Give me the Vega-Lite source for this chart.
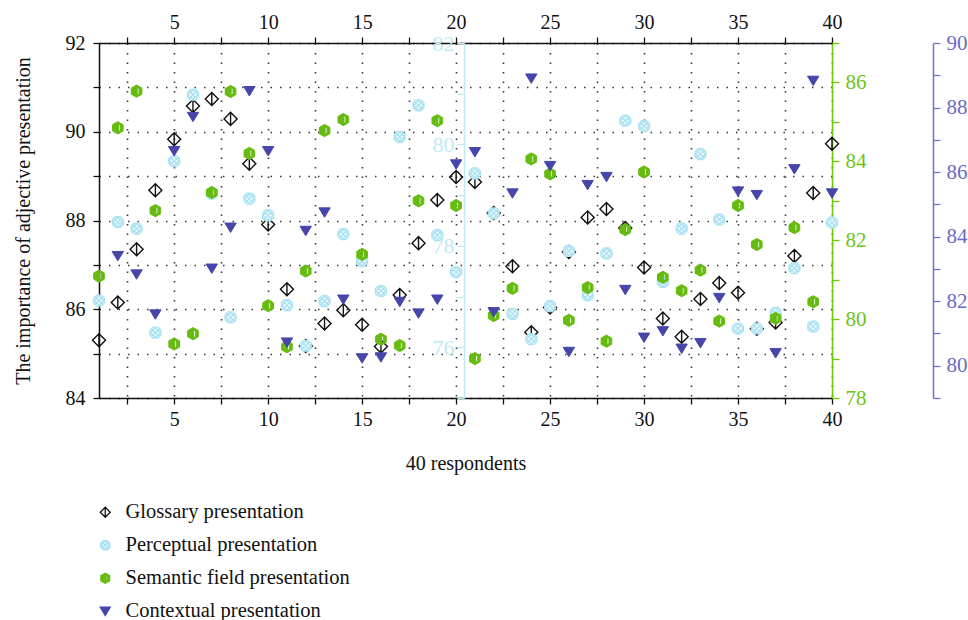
{
  "$schema": "https://vega.github.io/schema/vega-lite/v6.json",
  "width": 733,
  "height": 355,
  "autosize": {"type": "none"},
  "padding": {"left": 99, "top": 43, "right": 136, "bottom": 222},
  "background": "white",
  "config": {
    "font": "Liberation Serif",
    "view": {"stroke": null},
    "axis": {"labelFont": "Liberation Serif", "titleFont": "Liberation Serif", "labelFontSize": 20, "titleFontSize": 20, "titleFontWeight": "normal", "labelColor": "#111", "titleColor": "#111", "domainWidth": 1.5, "tickWidth": 1.3},
    "legend": {"orient": "none", "legendX": -4, "legendY": 459, "direction": "vertical", "labelFont": "Liberation Serif", "labelFontSize": 20.5, "labelColor": "#111", "labelLimit": 0, "symbolSize": 100, "labelOffset": 10, "rowPadding": 12, "padding": 0, "symbolStrokeWidth": 1.3}
  },
  "datasets": {
    "pts": [
      {"resp":1,"series":"Glossary presentation","value":85.30},{"resp":2,"series":"Glossary presentation","value":86.15},{"resp":3,"series":"Glossary presentation","value":87.35},{"resp":4,"series":"Glossary presentation","value":88.68},{"resp":5,"series":"Glossary presentation","value":89.83},{"resp":6,"series":"Glossary presentation","value":90.58},{"resp":7,"series":"Glossary presentation","value":90.74},{"resp":8,"series":"Glossary presentation","value":90.29},{"resp":9,"series":"Glossary presentation","value":89.28},{"resp":10,"series":"Glossary presentation","value":87.91},
      {"resp":11,"series":"Glossary presentation","value":86.45},{"resp":12,"series":"Glossary presentation","value":85.17},{"resp":13,"series":"Glossary presentation","value":85.68},{"resp":14,"series":"Glossary presentation","value":85.98},{"resp":15,"series":"Glossary presentation","value":85.65},{"resp":16,"series":"Glossary presentation","value":85.16},{"resp":17,"series":"Glossary presentation","value":86.32},{"resp":18,"series":"Glossary presentation","value":87.49},{"resp":19,"series":"Glossary presentation","value":88.46},{"resp":20,"series":"Glossary presentation","value":88.98},
      {"resp":21,"series":"Glossary presentation","value":88.87},{"resp":22,"series":"Glossary presentation","value":88.17},{"resp":23,"series":"Glossary presentation","value":86.97},{"resp":24,"series":"Glossary presentation","value":85.48},{"resp":25,"series":"Glossary presentation","value":86.04},{"resp":26,"series":"Glossary presentation","value":87.29},{"resp":27,"series":"Glossary presentation","value":88.07},{"resp":28,"series":"Glossary presentation","value":88.26},{"resp":29,"series":"Glossary presentation","value":87.83},{"resp":30,"series":"Glossary presentation","value":86.94},
      {"resp":31,"series":"Glossary presentation","value":85.79},{"resp":32,"series":"Glossary presentation","value":85.38},{"resp":33,"series":"Glossary presentation","value":86.23},{"resp":34,"series":"Glossary presentation","value":86.59},{"resp":35,"series":"Glossary presentation","value":86.37},{"resp":36,"series":"Glossary presentation","value":85.56},{"resp":37,"series":"Glossary presentation","value":85.70},{"resp":38,"series":"Glossary presentation","value":87.20},{"resp":39,"series":"Glossary presentation","value":88.62},{"resp":40,"series":"Glossary presentation","value":89.73},
      {"resp":1,"series":"Perceptual presentation","value":76.92},{"resp":2,"series":"Perceptual presentation","value":78.47},{"resp":3,"series":"Perceptual presentation","value":78.34},{"resp":4,"series":"Perceptual presentation","value":76.29},{"resp":5,"series":"Perceptual presentation","value":79.67},{"resp":6,"series":"Perceptual presentation","value":80.98},{"resp":7,"series":"Perceptual presentation","value":79.03},{"resp":8,"series":"Perceptual presentation","value":76.59},{"resp":9,"series":"Perceptual presentation","value":78.93},{"resp":10,"series":"Perceptual presentation","value":78.60},
      {"resp":11,"series":"Perceptual presentation","value":76.83},{"resp":12,"series":"Perceptual presentation","value":76.03},{"resp":13,"series":"Perceptual presentation","value":76.91},{"resp":14,"series":"Perceptual presentation","value":78.23},{"resp":15,"series":"Perceptual presentation","value":77.70},{"resp":16,"series":"Perceptual presentation","value":77.11},{"resp":17,"series":"Perceptual presentation","value":80.15},{"resp":18,"series":"Perceptual presentation","value":80.77},{"resp":19,"series":"Perceptual presentation","value":78.21},{"resp":20,"series":"Perceptual presentation","value":77.48},
      {"resp":21,"series":"Perceptual presentation","value":79.43},{"resp":22,"series":"Perceptual presentation","value":78.64},{"resp":23,"series":"Perceptual presentation","value":76.66},{"resp":24,"series":"Perceptual presentation","value":76.16},{"resp":25,"series":"Perceptual presentation","value":76.81},{"resp":26,"series":"Perceptual presentation","value":77.90},{"resp":27,"series":"Perceptual presentation","value":77.03},{"resp":28,"series":"Perceptual presentation","value":77.85},{"resp":29,"series":"Perceptual presentation","value":80.47},{"resp":30,"series":"Perceptual presentation","value":80.36},
      {"resp":31,"series":"Perceptual presentation","value":77.29},{"resp":32,"series":"Perceptual presentation","value":78.34},{"resp":33,"series":"Perceptual presentation","value":79.81},{"resp":34,"series":"Perceptual presentation","value":78.52},{"resp":35,"series":"Perceptual presentation","value":76.37},{"resp":36,"series":"Perceptual presentation","value":76.37},{"resp":37,"series":"Perceptual presentation","value":76.68},{"resp":38,"series":"Perceptual presentation","value":77.56},{"resp":39,"series":"Perceptual presentation","value":76.41},{"resp":40,"series":"Perceptual presentation","value":78.46},
      {"resp":1,"series":"Semantic field presentation","value":81.09},{"resp":2,"series":"Semantic field presentation","value":84.85},{"resp":3,"series":"Semantic field presentation","value":85.78},{"resp":4,"series":"Semantic field presentation","value":82.75},{"resp":5,"series":"Semantic field presentation","value":79.37},{"resp":6,"series":"Semantic field presentation","value":79.63},{"resp":7,"series":"Semantic field presentation","value":83.21},{"resp":8,"series":"Semantic field presentation","value":85.77},{"resp":9,"series":"Semantic field presentation","value":84.20},{"resp":10,"series":"Semantic field presentation","value":80.34},
      {"resp":11,"series":"Semantic field presentation","value":79.30},{"resp":12,"series":"Semantic field presentation","value":81.22},{"resp":13,"series":"Semantic field presentation","value":84.78},{"resp":14,"series":"Semantic field presentation","value":85.06},{"resp":15,"series":"Semantic field presentation","value":81.64},{"resp":16,"series":"Semantic field presentation","value":79.49},{"resp":17,"series":"Semantic field presentation","value":79.33},{"resp":18,"series":"Semantic field presentation","value":83.00},{"resp":19,"series":"Semantic field presentation","value":85.03},{"resp":20,"series":"Semantic field presentation","value":82.88},
      {"resp":21,"series":"Semantic field presentation","value":79.00},{"resp":22,"series":"Semantic field presentation","value":80.09},{"resp":23,"series":"Semantic field presentation","value":80.78},{"resp":24,"series":"Semantic field presentation","value":84.06},{"resp":25,"series":"Semantic field presentation","value":83.68},{"resp":26,"series":"Semantic field presentation","value":79.97},{"resp":27,"series":"Semantic field presentation","value":80.80},{"resp":28,"series":"Semantic field presentation","value":79.44},{"resp":29,"series":"Semantic field presentation","value":82.27},{"resp":30,"series":"Semantic field presentation","value":83.73},
      {"resp":31,"series":"Semantic field presentation","value":81.06},{"resp":32,"series":"Semantic field presentation","value":80.72},{"resp":33,"series":"Semantic field presentation","value":81.24},{"resp":34,"series":"Semantic field presentation","value":79.95},{"resp":35,"series":"Semantic field presentation","value":82.88},{"resp":36,"series":"Semantic field presentation","value":81.89},{"resp":37,"series":"Semantic field presentation","value":80.02},{"resp":38,"series":"Semantic field presentation","value":82.32},{"resp":39,"series":"Semantic field presentation","value":80.44},
      {"resp":2,"series":"Contextual presentation","value":83.40},{"resp":3,"series":"Contextual presentation","value":82.83},{"resp":4,"series":"Contextual presentation","value":81.59},{"resp":5,"series":"Contextual presentation","value":86.65},{"resp":6,"series":"Contextual presentation","value":87.71},{"resp":7,"series":"Contextual presentation","value":83.01},{"resp":8,"series":"Contextual presentation","value":84.28},{"resp":9,"series":"Contextual presentation","value":88.51},{"resp":10,"series":"Contextual presentation","value":86.65},
      {"resp":11,"series":"Contextual presentation","value":80.72},{"resp":12,"series":"Contextual presentation","value":84.18},{"resp":13,"series":"Contextual presentation","value":84.75},{"resp":14,"series":"Contextual presentation","value":82.05},{"resp":15,"series":"Contextual presentation","value":80.23},{"resp":16,"series":"Contextual presentation","value":80.26},{"resp":17,"series":"Contextual presentation","value":81.98},{"resp":18,"series":"Contextual presentation","value":81.62},{"resp":19,"series":"Contextual presentation","value":82.05},{"resp":20,"series":"Contextual presentation","value":86.24},
      {"resp":21,"series":"Contextual presentation","value":86.62},{"resp":22,"series":"Contextual presentation","value":81.66},{"resp":23,"series":"Contextual presentation","value":85.34},{"resp":24,"series":"Contextual presentation","value":88.90},{"resp":25,"series":"Contextual presentation","value":86.19},{"resp":26,"series":"Contextual presentation","value":80.43},{"resp":27,"series":"Contextual presentation","value":85.60},{"resp":28,"series":"Contextual presentation","value":85.85},{"resp":29,"series":"Contextual presentation","value":82.35},{"resp":30,"series":"Contextual presentation","value":80.87},
      {"resp":31,"series":"Contextual presentation","value":81.07},{"resp":32,"series":"Contextual presentation","value":80.53},{"resp":33,"series":"Contextual presentation","value":80.70},{"resp":34,"series":"Contextual presentation","value":82.10},{"resp":35,"series":"Contextual presentation","value":85.40},{"resp":36,"series":"Contextual presentation","value":85.29},{"resp":37,"series":"Contextual presentation","value":80.39},{"resp":38,"series":"Contextual presentation","value":86.09},{"resp":39,"series":"Contextual presentation","value":88.83},{"resp":40,"series":"Contextual presentation","value":85.34}
    ]
  },
  "data": {"name": "pts"},
  "layer": [
    {
      "transform": [{"filter": "datum.series === 'Glossary presentation'"}],
      "mark": {"type": "point", "size": 170, "strokeWidth": 1.4, "opacity": 1},
      "encoding": {
        "x": {"field": "resp", "type": "quantitative", "scale": {"domain": [1, 40], "nice": false, "zero": false},
          "axis": {"orient": "bottom", "values": [2.5,5,7.5,10,12.5,15,17.5,20,22.5,25,27.5,30,32.5,35,37.5,40], "labelExpr": "datum.value % 5 === 0 ? datum.label : ''", "labelFlush": false, "title": "40 respondents", "titlePadding": 24, "grid": true, "gridDash": [1.5, 8], "gridColor": "#222", "gridWidth": 1.6, "gridOpacity": 0.9, "domainColor": "#111", "tickColor": "#111", "tickSize": 6, "labelPadding": 5}},
        "y": {"field": "value", "type": "quantitative", "scale": {"domain": [84, 92], "nice": false, "zero": false},
          "axis": {"orient": "left", "values": [84,85,86,87,88,89,90,91,92], "labelExpr": "datum.value % 2 === 0 ? datum.label : ''", "title": "The importance of adjective presentation", "titlePadding": 32, "grid": true, "gridDash": [1.5, 8], "gridColor": "#222", "gridWidth": 1.6, "gridOpacity": 0.9, "domainColor": "#111", "tickColor": "#111", "tickSize": 6, "labelPadding": 8}},
        "fill": {"field": "series", "type": "nominal", "scale": {"domain": ["Glossary presentation", "Perceptual presentation", "Semantic field presentation", "Contextual presentation"], "range": ["transparent", "#f2fbfe", "#66bb11", "#4646aa"]}, "legend": {"title": null}},
        "stroke": {"field": "series", "type": "nominal", "scale": {"domain": ["Glossary presentation", "Perceptual presentation", "Semantic field presentation", "Contextual presentation"], "range": ["#111111", "#a9e1f1", "#66bb11", "#4646aa"]}, "legend": {"title": null}},
        "shape": {"field": "series", "type": "nominal", "scale": {"domain": ["Glossary presentation", "Perceptual presentation", "Semantic field presentation", "Contextual presentation"], "range": ["M0,-1L1,0L0,1L-1,0Z M0,-1L0,1", "M0.4,-0.92L0.92,-0.4L0.92,0.4L0.4,0.92L-0.4,0.92L-0.92,0.4L-0.92,-0.4L-0.4,-0.92Z M-0.66,-0.66L0.66,0.66 M-0.1,-0.92L0.92,0.1 M-0.92,-0.1L0.1,0.92 M-0.66,0.66L0.66,-0.66 M-0.1,0.92L0.92,-0.1 M-0.92,0.1L0.1,-0.92", "M0,-1L0.87,-0.5L0.87,0.5L0,1L-0.87,0.5L-0.87,-0.5Z M0.1,-0.6L0.1,0.6L0.4,0.45L0.4,-0.45Z", "M-1,-0.8L1,-0.8L0,0.85Z"]}, "legend": {"title": null}}
      }
    },
    {
      "transform": [{"filter": "datum.series === 'Perceptual presentation'"}],
      "mark": {"type": "point", "size": 140, "strokeWidth": 1.3, "opacity": 1},
      "encoding": {
        "x": {"field": "resp", "type": "quantitative", "scale": {"domain": [1, 40], "nice": false, "zero": false},
          "axis": {"orient": "top", "values": [2.5,5,7.5,10,12.5,15,17.5,20,22.5,25,27.5,30,32.5,35,37.5,40], "labelExpr": "datum.value % 5 === 0 ? datum.label : ''", "labelFlush": false, "title": null, "grid": false, "domainColor": "#111", "tickColor": "#111", "tickSize": 6, "labelPadding": 5}},
        "y": {"field": "value", "type": "quantitative", "scale": {"domain": [75, 82], "nice": false, "zero": false},
          "axis": {"orient": "left", "offset": -365, "values": [75,76,77,78,79,80,81,82], "labelExpr": "datum.value % 2 === 0 ? datum.label : ''", "title": null, "grid": false, "domainColor": "#bfe9f6", "tickColor": "#bfe9f6", "labelColor": "#bfe9f6", "labelFontSize": 22, "tickSize": 7, "labelPadding": 3}},
        "fill": {"field": "series", "type": "nominal", "legend": {"title": null}},
        "stroke": {"field": "series", "type": "nominal", "legend": {"title": null}},
        "shape": {"field": "series", "type": "nominal", "legend": {"title": null}}
      }
    },
    {
      "transform": [{"filter": "datum.series === 'Semantic field presentation'"}],
      "mark": {"type": "point", "size": 150, "strokeWidth": 1, "opacity": 1},
      "encoding": {
        "x": {"field": "resp", "type": "quantitative", "scale": {"domain": [1, 40], "nice": false, "zero": false}, "axis": null},
        "y": {"field": "value", "type": "quantitative", "scale": {"domain": [78, 87], "nice": false, "zero": false},
          "axis": {"orient": "right", "values": [78,79,80,81,82,83,84,85,86,87], "labelExpr": "datum.value % 2 === 0 ? datum.label : ''", "title": null, "grid": false, "domainColor": "#66cc00", "tickColor": "#66cc00", "labelColor": "#6cc417", "labelFontSize": 21, "tickSize": 7, "labelPadding": 6}},
        "fill": {"field": "series", "type": "nominal", "legend": {"title": null}},
        "stroke": {"field": "series", "type": "nominal", "legend": {"title": null}},
        "shape": {"field": "series", "type": "nominal", "legend": {"title": null}}
      }
    },
    {
      "transform": [{"filter": "datum.series === 'Contextual presentation'"}],
      "mark": {"type": "point", "size": 130, "strokeWidth": 1, "opacity": 1},
      "encoding": {
        "x": {"field": "resp", "type": "quantitative", "scale": {"domain": [1, 40], "nice": false, "zero": false}, "axis": null},
        "y": {"field": "value", "type": "quantitative", "scale": {"domain": [79, 90], "nice": false, "zero": false},
          "axis": {"orient": "right", "offset": 101, "values": [79,80,81,82,83,84,85,86,87,88,89,90], "labelExpr": "datum.value % 2 === 0 ? datum.label : ''", "title": null, "grid": false, "domainColor": "#7474c8", "tickColor": "#7474c8", "labelColor": "#6a6ac4", "labelFontSize": 21, "tickSize": 7, "labelPadding": 6}},
        "fill": {"field": "series", "type": "nominal", "legend": {"title": null}},
        "stroke": {"field": "series", "type": "nominal", "legend": {"title": null}},
        "shape": {"field": "series", "type": "nominal", "legend": {"title": null}}
      }
    }
  ],
  "resolve": {"scale": {"y": "independent"}, "axis": {"x": "independent", "y": "independent"}}
}
